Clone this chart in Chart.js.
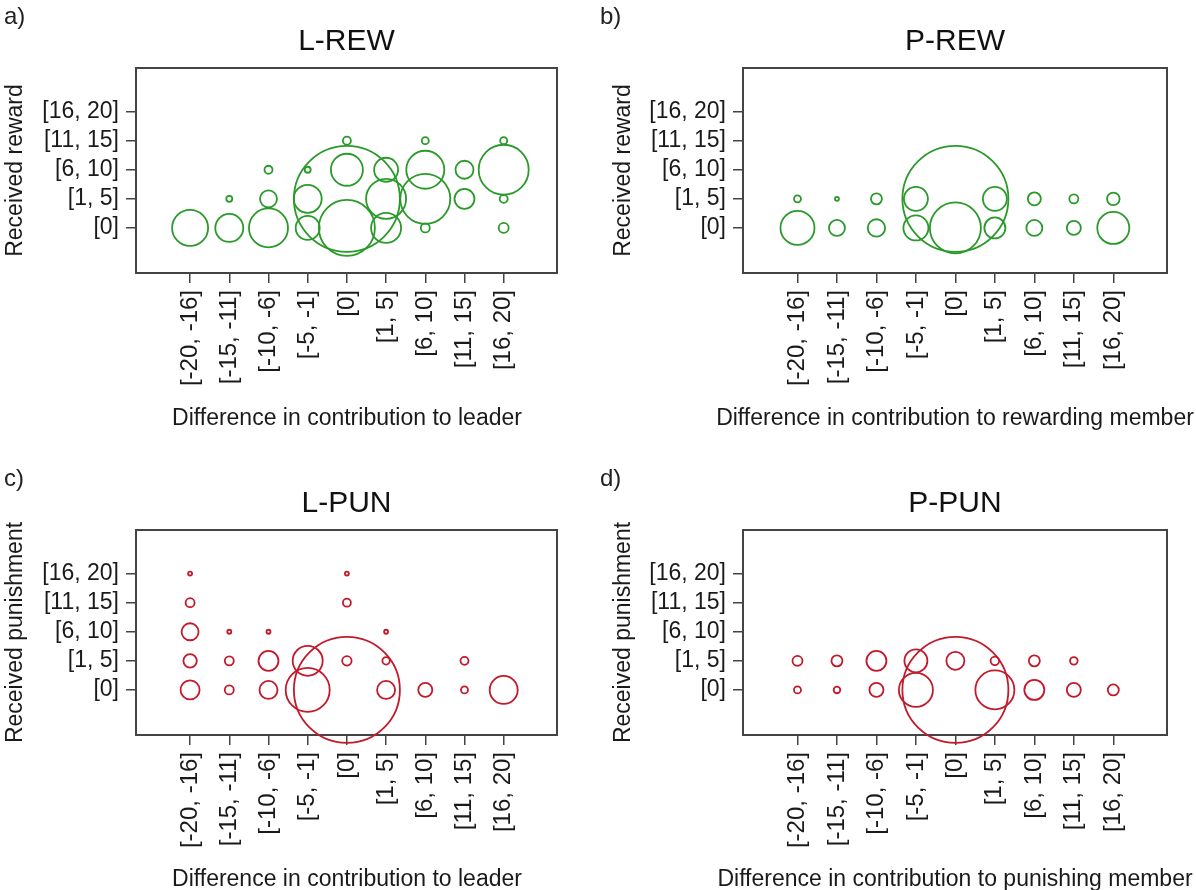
<!DOCTYPE html>
<html lang="en">
<head>
<meta charset="UTF-8">
<title>Received reward and punishment by difference in contribution</title>
<script src="https://cdn.jsdelivr.net/npm/chart.js@4.4.0/dist/chart.umd.min.js"></script>
<style>
body {
margin: 0;
background: #fff;
font-family: 'Liberation Sans', Arial, sans-serif;
}
.wrap {
position: relative;
width: 1196px;
height: 890px;
overflow: hidden;
}
.panel {
position: absolute;
width: 598px;
height: 428px;
}
.panel canvas {
display: block;
}
.tag {
position: absolute;
font-size: 24px;
color: #222;
}
.xtitle {
position: absolute;
width: 700px;
text-align: center;
font-size: 23px;
line-height: 24px;
color: #1a1a1a;
white-space: nowrap;
}
</style>
</head>
<body>
<div class="wrap">
<div class="panel" style="left:0;top:0"><canvas id="chartA" width="598" height="428"></canvas></div>
<div class="panel" style="left:598px;top:0"><canvas id="chartB" width="598" height="428"></canvas></div>
<div class="panel" style="left:0;top:462px"><canvas id="chartC" width="598" height="428"></canvas></div>
<div class="panel" style="left:598px;top:462px"><canvas id="chartD" width="598" height="428"></canvas></div>
<div class="tag" style="left:4px;top:2px">a)</div>
<div class="tag" style="left:600px;top:2px">b)</div>
<div class="tag" style="left:4px;top:464px">c)</div>
<div class="tag" style="left:600px;top:464px">d)</div>
<div class="xtitle" style="left:-3px;top:405px">Difference in contribution to leader</div>
<div class="xtitle" style="left:605px;top:405px">Difference in contribution to rewarding member</div>
<div class="xtitle" style="left:-3px;top:866px">Difference in contribution to leader</div>
<div class="xtitle" style="left:605px;top:866px">Difference in contribution to punishing member</div>
</div>
<script>
// category labels
const diffLabels = ['[-20, -16]', '[-15, -11]', '[-10, -6]', '[-5, -1]', '[0]', '[1, 5]', '[6, 10]', '[11, 15]', '[16, 20]'];
const receivedLabels = ['[0]', '[1, 5]', '[6, 10]', '[11, 15]', '[16, 20]'];

// bubble sizes: one row per received category, one column per difference category
const lRewSizes = [
[18, 14, 19.5, 12, 28, 15, 4.5, null, 5],
[null, 3, 8.5, 14, 53, 20, 25, 10, 4],
[null, null, 4, 3, 16, 12, 19, 9, 25],
[null, null, null, null, 4, null, 3.5, null, 3.5],
[null, null, null, null, null, null, null, null, null]
];
const pRewSizes = [
[17, 8, 8.7, 12.5, 25.5, 10.5, 8, 7, 16],
[3.5, 2, 5.5, 12, 53, 12, 6.5, 4.5, 6.3],
[null, null, null, null, null, null, null, null, null],
[null, null, null, null, null, null, null, null, null],
[null, null, null, null, null, null, null, null, null]
];
const lPunSizes = [
[9.5, 4.5, 9, 22, 53, 9, 7, 3.5, 14],
[6.7, 4.5, 10, 15, 4.7, 3.7, null, 4, null],
[8.5, 2, 2, null, null, 2, null, null, null],
[4.5, null, null, null, 4, null, null, null, null],
[2, null, null, null, 2, null, null, null, null]
];
const pPunSizes = [
[3.5, 3.3, 7, 17, 53, 19.5, 10, 7, 5.5],
[5, 5.5, 10, 11.5, 9, 4.3, 5.5, 3.8, null],
[null, null, null, null, null, null, null, null, null],
[null, null, null, null, null, null, null, null, null],
[null, null, null, null, null, null, null, null, null]
];

const FONT = "'Liberation Sans', Arial, sans-serif";
const GREEN = '#2a9a2a';
const RED = '#c21a2a';

// turn a size grid into bubble points
function toPoints(sizes) {
const pts = [];
sizes.forEach((row, yi) => row.forEach((v, xi) => {
if (v != null) pts.push({x: xi, y: yi, r: v});
}));
return pts;
}

// full box round the plot area, like R's box()
const frame = {
id: 'frame',
beforeDatasetsDraw(chart) {
const {ctx, chartArea: a} = chart;
ctx.save();
ctx.strokeStyle = '#444';
ctx.lineWidth = 2;
ctx.strokeRect(a.left, a.top, a.right - a.left, a.bottom - a.top);
ctx.restore();
}
};

function makePanel(id, title, yTitle, sizes, color, isLeft) {
const tickGrid = {drawOnChartArea: false, tickLength: 10, tickColor: '#444', lineWidth: 1.5};
return new Chart(document.getElementById(id), {
type: 'bubble',
data: {
datasets: [{
data: toPoints(sizes),
borderColor: color,
backgroundColor: 'rgba(0,0,0,0)',
borderWidth: 1.8,
clip: false
}]
},
options: {
responsive: false,
animation: false,
devicePixelRatio: 1,
events: [],
layout: {autoPadding: false, padding: {left: 0, right: isLeft ? 41 : 29, top: 0, bottom: 0}},
plugins: {
legend: {display: false},
tooltip: {enabled: false},
title: {
display: true,
text: title,
fullSize: false,
color: '#111',
font: {family: FONT, size: 30, weight: 'normal'},
padding: {top: 24, bottom: 8}
}
},
scales: {
x: {
type: 'linear',
min: -1.38,
max: 9.36,
afterBuildTicks: s => { s.ticks = diffLabels.map((_, i) => ({value: i})); },
afterFit: s => { s.height = 155; s.paddingLeft = 0; s.paddingRight = 0; },
ticks: {
callback: v => diffLabels[v],
minRotation: 90,
maxRotation: 90,
autoSkip: false,
padding: 7,
color: '#1a1a1a',
font: {family: FONT, size: 24}
},
grid: tickGrid,
border: {display: false}
},
y: {
type: 'linear',
min: -1.55,
max: 5.5,
afterBuildTicks: s => { s.ticks = receivedLabels.map((_, i) => ({value: i})); },
afterFit: s => { s.width = isLeft ? 136 : 145; s.paddingTop = 0; s.paddingBottom = 0; },
ticks: {
callback: v => receivedLabels[v],
autoSkip: false,
padding: 7,
color: '#1a1a1a',
font: {family: FONT, size: 23}
},
grid: tickGrid,
border: {display: false},
title: {
display: true,
text: yTitle,
color: '#1a1a1a',
font: {family: FONT, size: 23},
padding: {top: isLeft ? 2 : 12, bottom: 0}
}
}
}
},
plugins: [frame]
});
}

makePanel('chartA', 'L-REW', 'Received reward', lRewSizes, GREEN, true);
makePanel('chartB', 'P-REW', 'Received reward', pRewSizes, GREEN, false);
makePanel('chartC', 'L-PUN', 'Received punishment', lPunSizes, RED, true);
makePanel('chartD', 'P-PUN', 'Received punishment', pPunSizes, RED, false);
</script>
</body>
</html>
